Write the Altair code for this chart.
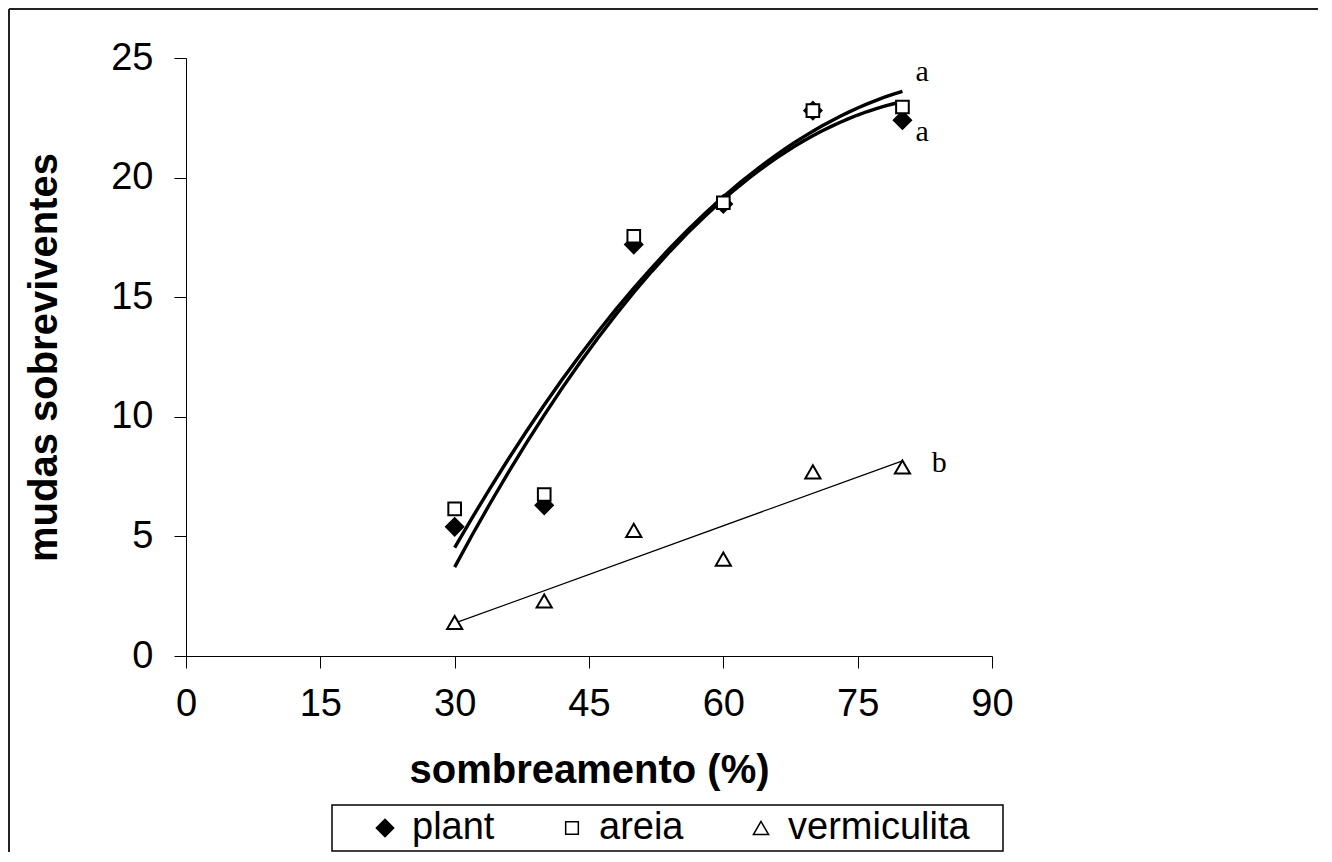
import altair as alt
import pandas as pd

# ---- data ----
sombreamento = [30, 40, 50, 60, 70, 80]
plant = [5.4, 6.3, 17.2, 18.9, 22.8, 22.4]
areia = [6.15, 6.75, 17.55, 18.95, 22.8, 22.95]
vermiculita = [1.4, 2.3, 5.25, 4.05, 7.7, 7.9]
series_names = ["plant", "areia", "vermiculita"]
series_shapes = ["diamond", "square", "triangle-up"]
series_fills = ["black", "white", "white"]
series_strokes = ["black", "black", "black"]
series_sizes = [300, 160, 230]
x_ticks = [0, 15, 30, 45, 60, 75, 90]
y_ticks = [0, 5, 10, 15, 20, 25]
letters = ["a", "a", "b"]
letter_x = [82.2, 82.2, 84.1]
letter_y = [24.4, 21.9, 8.05]

rows = []
for name, vals in zip(series_names, [plant, areia, vermiculita]):
    for xv, yv in zip(sombreamento, vals):
        rows.append({"sombreamento": xv, "mudas": yv, "serie": name})
df = pd.DataFrame(rows)
ann = pd.DataFrame({"txt": letters, "x": letter_x, "y": letter_y})

FONT = "Liberation Sans"
xscale = alt.Scale(domain=[0, 90], nice=False, zero=False)
yscale = alt.Scale(domain=[0, 25], nice=False)

xaxis = alt.Axis(values=x_ticks, format="d", title="sombreamento (%)", grid=False,
                 labelFlush=False, labelOverlap=False, labelPadding=17,
                 titleY=126, titleBaseline="alphabetic")
yaxis = alt.Axis(values=y_ticks, format="d", title="mudas sobreviventes", grid=False,
                 labelFlush=False, labelOverlap=False, labelPadding=21,
                 titleX=-142, titleY=299, titleAngle=-90, titleBaseline="middle",
                 titleAlign="center")

X = alt.X("sombreamento:Q", scale=xscale, axis=xaxis)
Y = alt.Y("mudas:Q", scale=yscale, axis=yaxis)
Xn = alt.X("sombreamento:Q", scale=xscale)
Yn = alt.Y("mudas:Q", scale=yscale)

leg = alt.Legend(title=None, orient="none", direction="horizontal",
                 legendX=180, legendY=751, labelLimit=0,
                 symbolStrokeColor="black", symbolStrokeWidth=1.5)

base = alt.Chart(df)

curves = base.transform_filter(
    alt.FieldOneOfPredicate(field="serie", oneOf=["plant", "areia"])
).transform_regression(
    "sombreamento", "mudas", method="poly", order=2, groupby=["serie"]
).mark_line(color="black", strokeWidth=3.4).encode(x=X, y=Y, detail="serie:N")

vline = base.transform_filter(
    alt.FieldEqualPredicate(field="serie", equal="vermiculita")
).transform_regression(
    "sombreamento", "mudas", method="linear"
).mark_line(color="black", strokeWidth=1.2).encode(x=Xn, y=Yn)

points = base.mark_point(strokeWidth=2, opacity=1, fillOpacity=1, strokeOpacity=1).encode(
    x=Xn, y=Yn,
    shape=alt.Shape("serie:N", scale=alt.Scale(domain=series_names, range=series_shapes), legend=leg),
    fill=alt.Fill("serie:N", scale=alt.Scale(domain=series_names, range=series_fills), legend=leg),
    stroke=alt.Stroke("serie:N", scale=alt.Scale(domain=series_names, range=series_strokes), legend=leg),
    size=alt.Size("serie:N", scale=alt.Scale(domain=series_names, range=series_sizes, type="ordinal"), legend=leg),
)

labels = alt.Chart(ann).mark_text(font="Liberation Serif", fontSize=30, color="black",
                                  align="center", baseline="middle").encode(
    x=alt.X("x:Q", scale=xscale), y=alt.Y("y:Q", scale=yscale), text="txt:N")

one = alt.Data(values=[{}])
border_left = alt.Chart(one).mark_rule(color="#222222", strokeWidth=2).encode(
    x=alt.value(-177), y=alt.value(-49), y2=alt.value(800))
border_top = alt.Chart(one).mark_rule(color="#222222", strokeWidth=2).encode(
    x=alt.value(-177), x2=alt.value(1140), y=alt.value(-49))
legend_box = alt.Chart(one).mark_rect(fillOpacity=0, stroke="black", strokeWidth=1.5).encode(
    x=alt.value(146), x2=alt.value(817), y=alt.value(747), y2=alt.value(793))

chart = alt.layer(border_left, border_top, legend_box, curves, vline, points, labels).properties(
    width=806, height=598,
    autosize=alt.AutoSizeParams(type="none"),
    padding={"left": 178, "top": 50, "right": 326, "bottom": 196},
    background="white",
).configure_view(stroke=None).configure_axis(
    domainColor="black", domainWidth=1, tickColor="black", tickSize=12, tickWidth=1,
    labelFont=FONT, labelFontSize=38, labelColor="black",
    titleFont=FONT, titleFontSize=40, titleFontWeight="bold", titleColor="black",
).configure_legend(
    labelFont=FONT, labelFontSize=38, labelColor="black", labelOffset=8,
    columnPadding=58, symbolStrokeColor="black", symbolStrokeWidth=1.5, padding=0,
    labelLimit=0,
)

chart.save("out.html", embed_options={"renderer": "svg", "actions": False})
